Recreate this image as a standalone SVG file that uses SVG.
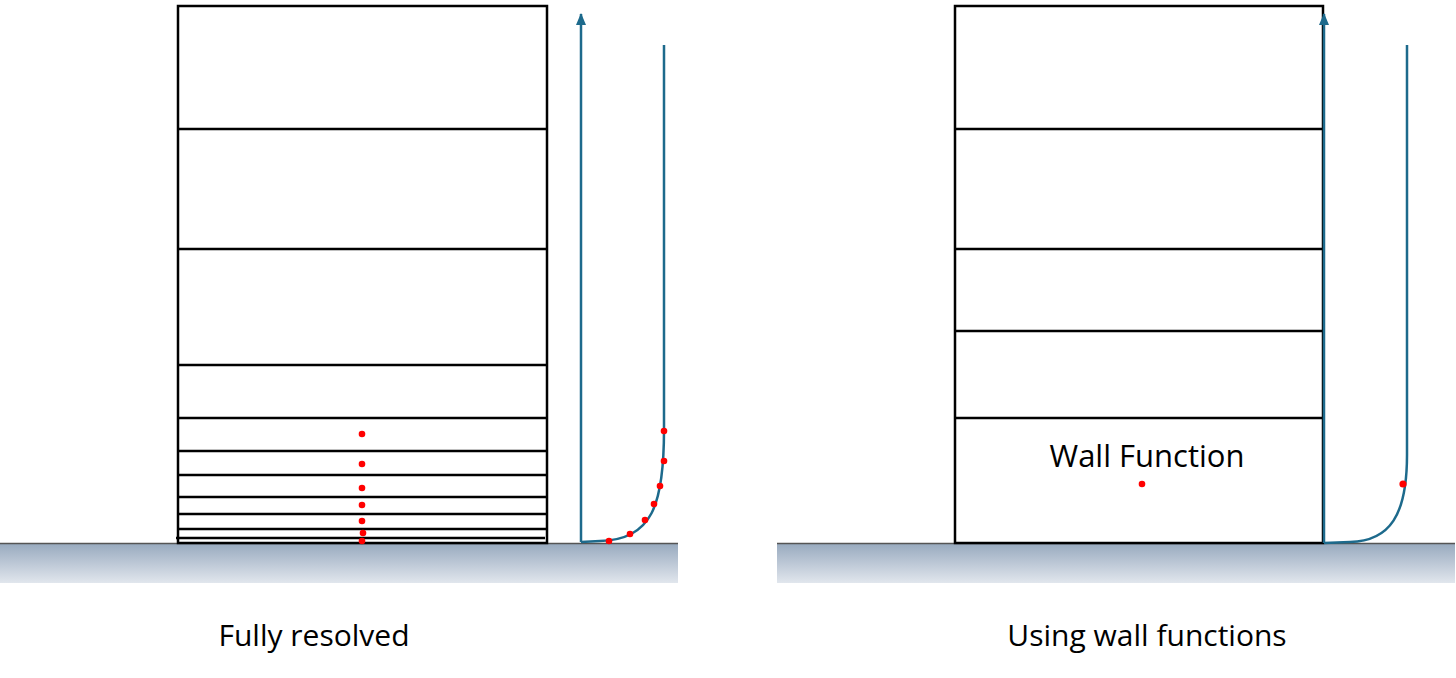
<svg xmlns="http://www.w3.org/2000/svg" width="1456" height="678" viewBox="0 0 1456 678">
<defs>
<linearGradient id="g" x1="0" y1="0" x2="0" y2="1">
<stop offset="0" stop-color="#97a9be"/>
<stop offset="1" stop-color="#e1e6ed"/>
</linearGradient>
<marker id="ah" viewBox="0 0 12 10" refX="11" refY="5" markerWidth="12" markerHeight="10" markerUnits="userSpaceOnUse" orient="auto">
<path d="M0,0 L12,5 L0,10 Z" fill="#1d6a8c"/>
</marker>
<style>
.box{fill:none;stroke:#000;stroke-width:2.5}
.ln{stroke:#000;stroke-width:2.5}
.ax{fill:none;stroke:#1d6a8c;stroke-width:2.5}
.dot{fill:#ff0000}
.lbl{font-family:"Open Sans","Liberation Sans",sans-serif;font-size:30px;fill:#000;text-anchor:middle}
.gnd{fill:url(#g)}
.gl{stroke:#555;stroke-width:1.5}
</style>
</defs>
<rect width="1456" height="678" fill="#fff"/>
<g id="ground-left">
<rect class="gnd" x="0" y="543" width="678" height="40"/>
<line class="gl" x1="0" y1="543.5" x2="678" y2="543.5"/>
</g>
<g id="ground-right">
<rect class="gnd" x="777" y="543" width="678" height="40"/>
<line class="gl" x1="777" y1="543.5" x2="1455" y2="543.5"/>
</g>
<g id="mesh-left">
<rect class="box" x="178" y="6" width="369" height="537"/>
<line class="ln" x1="178" y1="129" x2="547" y2="129"/>
<line class="ln" x1="178" y1="249" x2="547" y2="249"/>
<line class="ln" x1="178" y1="365" x2="547" y2="365"/>
<line class="ln" x1="178" y1="418" x2="547" y2="418"/>
<line class="ln" x1="178" y1="451" x2="547" y2="451"/>
<line class="ln" x1="178" y1="475" x2="547" y2="475"/>
<line class="ln" x1="178" y1="497" x2="547" y2="497"/>
<line class="ln" x1="178" y1="514" x2="547" y2="514"/>
<line class="ln" x1="178" y1="529" x2="547" y2="529"/>
<line class="ln" x1="176" y1="538" x2="545" y2="538"/>
<circle class="dot" cx="362" cy="434" r="3.3"/>
<circle class="dot" cx="362" cy="464" r="3.3"/>
<circle class="dot" cx="362" cy="488" r="3.3"/>
<circle class="dot" cx="362" cy="505" r="3.3"/>
<circle class="dot" cx="362" cy="521" r="3.3"/>
<circle class="dot" cx="363" cy="533" r="3.3"/>
<circle class="dot" cx="362" cy="541" r="3.3"/>
</g>
<g id="mesh-right">
<rect class="box" x="955" y="6" width="368" height="537"/>
<line class="ln" x1="955" y1="129" x2="1323" y2="129"/>
<line class="ln" x1="955" y1="249" x2="1323" y2="249"/>
<line class="ln" x1="955" y1="331" x2="1323" y2="331"/>
<line class="ln" x1="955" y1="418" x2="1323" y2="418"/>
<text class="lbl" x="1147" y="467" style="font-size:31px">Wall Function</text>
<circle class="dot" cx="1142" cy="484" r="3.3"/>
</g>
<g id="connectors">
<line class="ax" x1="581" y1="542" x2="581" y2="14" marker-end="url(#ah)"/>
<path class="ax" d="M664,45 L664,430 C664,505 652,540 600,541 L581,542"/>
<line class="ax" x1="1324" y1="543" x2="1324" y2="14" marker-end="url(#ah)"/>
<path class="ax" d="M1407,45 L1407,455 C1407,515 1390,541 1350,542 L1324,543"/>
</g>
<g id="profile-dots">
<circle class="dot" cx="664" cy="431" r="3.3"/>
<circle class="dot" cx="664" cy="461" r="3.3"/>
<circle class="dot" cx="660" cy="486" r="3.3"/>
<circle class="dot" cx="654" cy="504" r="3.3"/>
<circle class="dot" cx="645" cy="520" r="3.3"/>
<circle class="dot" cx="630" cy="534" r="3.3"/>
<circle class="dot" cx="609" cy="541" r="3.3"/>
<circle class="dot" cx="1403" cy="484" r="3.6"/>
</g>
<g id="labels">
<text class="lbl" x="314" y="646">Fully resolved</text>
<text class="lbl" x="1147" y="646">Using wall functions</text>
</g>
</svg>
